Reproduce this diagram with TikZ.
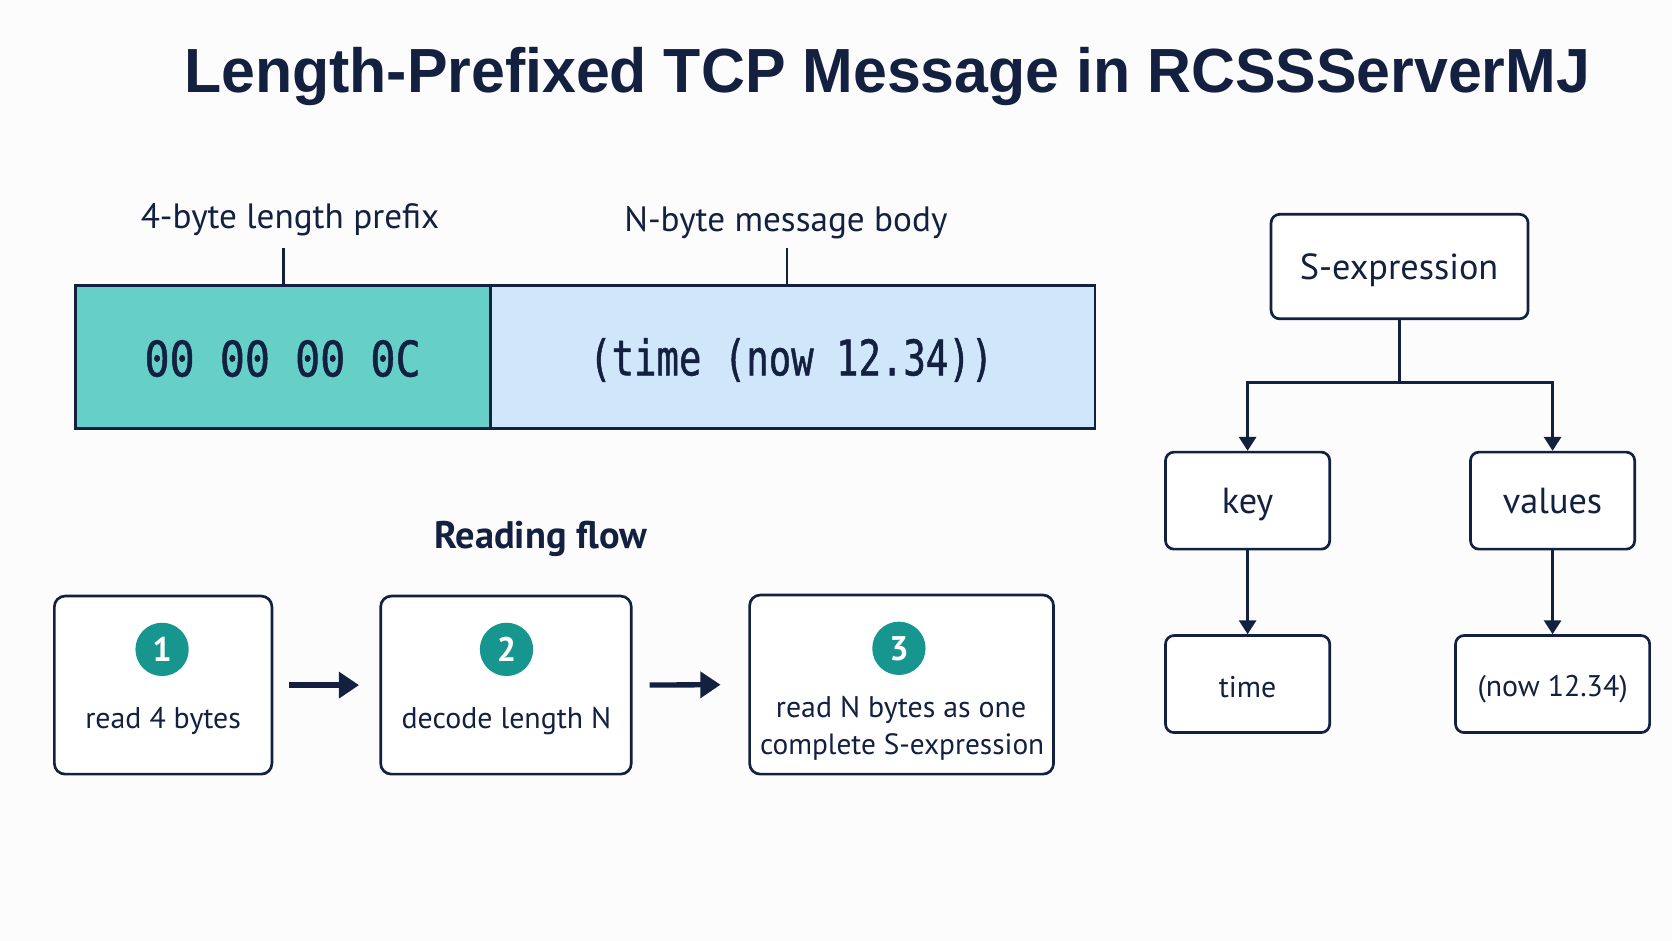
\documentclass[tikz,border=0pt]{standalone}
\usepackage{fontspec}
\setmainfont{PT Sans}
\newfontfamily\titlefont[FakeStretch=0.975]{Liberation Sans}
\newfontfamily\monoA[FakeStretch=0.85,FakeBold=1]{DejaVu Sans Mono}
\newfontfamily\monoB[FakeStretch=0.76,FakeBold=1]{DejaVu Sans Mono}
\usetikzlibrary{arrows.meta}
\definecolor{navy}{HTML}{13203F}
\definecolor{tealfill}{HTML}{66D0C8}
\definecolor{bluefill}{HTML}{CFE6FB}
\definecolor{tealdot}{HTML}{16968F}
\definecolor{bgcol}{HTML}{FCFCFD}
\tikzset{
  fs/.style={font=\fontsize{#1}{#1}\selectfont},
  txt/.style={anchor=base, text=navy, inner sep=0pt},
  field/.style={draw=navy, line width=2.5pt, inner sep=0pt},
  tbox/.style={draw=navy, line width=2.5pt, rounded corners=8pt, fill=white, inner sep=0pt},
  fbox/.style={draw=navy, line width=2.5pt, rounded corners=10pt, fill=white, inner sep=0pt},
  tarr/.style={draw=navy, line width=2.5pt, -{Triangle[length=13pt,width=16pt]}},
  farr/.style={draw=navy, line width=5pt, -{Triangle[length=19pt,width=24pt]}},
  dot/.style={circle, fill=tealdot, minimum size=50pt, inner sep=0pt, text=white, font=\bfseries\fontsize{32}{32}\selectfont},
}
\begin{document}
\begin{tikzpicture}[x=1pt,y=-1pt]
\fill[bgcol] (0,0) rectangle (1568,882);
\useasboundingbox (0,0) rectangle (1568,882);

% title
\node[txt, font=\titlefont\bfseries\fontsize{58.5}{58.5}\selectfont] (title) at (832,87) {Length-Prefixed TCP Message in RCSSServerMJ};

% message fields
\node[field, fill=tealfill, minimum width=389pt, minimum height=134pt] (pfx) at (265.5,335) {};
\node[field, fill=bluefill, minimum width=567pt, minimum height=134pt] (body) at (743.5,335) {};
\node[txt, font=\monoA\fontsize{46}{46}\selectfont] (pfxT) at (265,353) {00 00 00 0C};
\node[txt, font=\monoB\fontsize{46}{46}\selectfont] (bodyT) at (742,352) {(time (now 12.34))};
\node[txt, fs=33] (pfxL) at (272,214) {4-byte length prefix};
\node[txt, fs=33] (bodyL) at (737,217) {N-byte message body};
\coordinate (t1) at (266,233);
\coordinate (t2) at (738,233);
\draw[navy, line width=2.5pt] (t1) -- (t1 |- pfx.north);
\draw[navy, line width=2.5pt] (t2) -- (t2 |- body.north);

% tree
\node[tbox, minimum width=241pt, minimum height=98pt] (sexp) at (1312.5,250) {};
\node[tbox, minimum width=154pt, minimum height=91pt] (key) at (1170,469.5) {};
\node[tbox, minimum width=154pt, minimum height=91pt] (vals) at (1456,469.5) {};
\node[tbox, minimum width=154pt, minimum height=91pt] (time) at (1170,641.5) {};
\node[tbox, minimum width=182pt, minimum height=91pt] (now) at (1456,641.5) {};
\node[txt, fs=34] (sexpT) at (1312,262) {S-expression};
\node[txt, fs=34] (keyT) at (1170,482) {key};
\node[txt, fs=34] (valsT) at (1456,482) {values};
\node[txt, fs=28] (timeT) at (1170,654) {time};
\node[txt, fs=28] (nowT) at (1456,653) {(now 12.34)};
\coordinate (j) at (1312.5,359);
\draw[navy, line width=2.5pt] (sexp.south) -- (j);
\draw[tarr] (j) -| (key.north);
\draw[tarr] (j) -| (vals.north);
\draw[tarr] (key.south) -- (time.north);
\draw[tarr] (vals.south) -- (now.north);

% reading flow
\node[txt, font=\bfseries\fontsize{36}{36}\selectfont] (rf) at (507,514) {Reading flow};
\node[fbox, minimum width=204pt, minimum height=167pt] (b1) at (153,642.5) {};
\node[fbox, minimum width=235pt, minimum height=167pt] (b2) at (474.5,642.5) {};
\node[fbox, minimum width=285pt, minimum height=168pt] (b3) at (845.5,642) {};
\node[dot] (c1) at (152,609) {1};
\node[dot] (c2) at (475,609) {2};
\node[dot] (c3) at (843,608) {3};
\node[txt, fs=28] (b1T) at (153,683) {read 4 bytes};
\node[txt, fs=28] (b2T) at (475,683) {decode length N};
\node[txt, fs=28] (b3T1) at (845,673) {read N bytes as one};
\node[txt, fs=27.5] (b3T2) at (846,708) {complete S-expression};
\draw[farr, shorten <=15pt, shorten >=19pt] (b1.east) -- (b2.west);
\draw[farr, shorten <=16pt, shorten >=26pt] (b2.east) -- (b3.west);
\end{tikzpicture}
\end{document}
